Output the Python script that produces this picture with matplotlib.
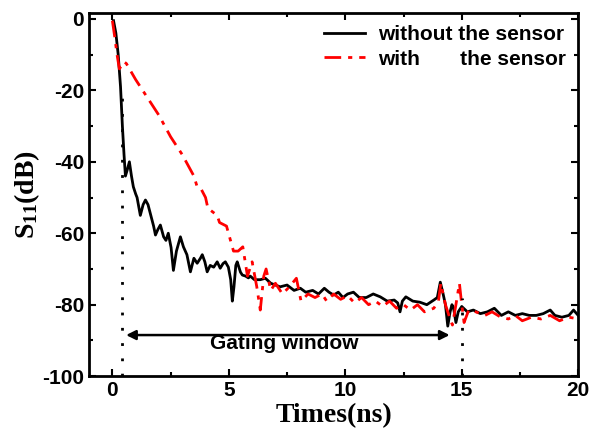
import matplotlib
matplotlib.use("Agg")
import matplotlib.pyplot as plt
from matplotlib.ticker import MultipleLocator

plt.rcParams['mathtext.fontset'] = 'custom'
plt.rcParams['mathtext.rm'] = 'Liberation Serif:bold'
plt.rcParams['mathtext.it'] = 'Liberation Serif:bold'
plt.rcParams['axes.unicode_minus'] = False

# S11 without the sensor (black)
t_without = [0.05, 0.15, 0.25, 0.35, 0.43, 0.5, 0.56, 0.65, 0.73, 0.82, 0.9, 1.0, 1.06, 1.2, 1.32,
             1.42, 1.53, 1.63, 1.77, 1.85, 1.95, 2.06, 2.2, 2.3, 2.4, 2.52, 2.62, 2.75, 2.92, 3.05,
             3.2, 3.35, 3.5, 3.64, 3.78, 3.86, 3.97, 4.07, 4.2, 4.35, 4.5, 4.63, 4.75, 4.85, 4.98,
             5.08, 5.15, 5.22, 5.3, 5.36, 5.5, 5.58, 5.72, 5.84, 5.92, 6.1, 6.35, 6.57, 6.8, 7.0,
             7.2, 7.5, 7.8, 8.07, 8.3, 8.6, 8.85, 9.1, 9.3, 9.5, 9.7, 9.9, 10.1, 10.35, 10.6, 10.9,
             11.2, 11.5, 11.8, 12.1, 12.25, 12.35, 12.45, 12.6, 12.9, 13.2, 13.5, 13.8, 13.95,
             14.08, 14.2, 14.3, 14.4, 14.5, 14.58, 14.65, 14.75, 14.85, 15.0, 15.24, 15.5, 15.8,
             16.1, 16.4, 16.7, 17.0, 17.3, 17.6, 17.9, 18.2, 18.5, 18.8, 19.0, 19.3, 19.6, 19.8, 20.0]
s11_without = [-0.5, -4, -10, -19, -30, -38, -44, -42, -40, -44, -47, -49, -50, -55, -52,
               -50.7, -52, -54.5, -58, -60.5, -59, -57.7, -61, -62, -60, -64, -70.4, -65, -61, -63.8,
               -66, -70.8, -67, -68.4, -67, -66, -68, -70.8, -69, -69.5, -68, -69.8, -68.5, -68, -69.5,
               -73, -79, -75, -69, -68, -70.9, -71.7, -72, -72.5, -72, -73, -73, -72.6, -74, -74.5,
               -75, -74.5, -76, -75.4, -76.5, -76, -77, -75.4, -76.5, -77.3, -76.5, -78, -77, -76.5, -78, -78,
               -77, -77.8, -79, -78.7, -79.5, -82, -79, -77.8, -79, -79.3, -80, -78.7, -78,
               -73.7, -77, -80, -86, -82, -80, -81, -85, -82, -80.5, -82, -81.5, -82.5,
               -82, -81, -83, -82, -83, -82.5, -83, -83, -82.5, -81.5, -83, -83.5, -83, -81.5, -83]

# S11 with the sensor (red)
t_with = [0.0, 0.1, 0.2, 0.3, 0.4, 0.5, 0.6, 1.0, 1.5, 2.0, 2.5, 3.0, 3.5, 3.64, 3.8,
          4.0, 4.1, 4.5, 4.6, 4.9, 5.2, 5.4, 5.6, 5.8, 6.0, 6.2, 6.35, 6.5, 6.6, 6.8,
          7.0, 7.3, 7.6, 7.9, 8.1, 8.4, 8.7, 9.0, 9.2, 9.5, 9.8, 10.1, 10.4, 10.7, 11.0,
          11.3, 11.6, 11.9, 12.2, 12.5, 12.8, 13.1, 13.4, 13.8, 14.0, 14.1, 14.3, 14.5, 14.6,
          14.75, 14.9, 15.0, 15.1, 15.3, 15.6, 16.0, 16.3, 16.65, 17.0, 17.3, 17.6, 18.0, 18.4,
          18.8, 19.2, 19.6, 20.0]
s11_with = [-0.5, -5, -10, -14, -13, -12, -12.5, -17, -22, -27, -33, -38, -44, -47, -47.5,
            -50, -53, -55, -57, -58, -65, -65, -63.8, -72, -68, -75, -81.5, -72, -70, -76,
            -74, -77, -75, -72.6, -79, -77, -78, -77, -79, -77, -78.5, -77.5, -79.5, -78, -80,
            -79, -80.5, -79, -81, -80, -81.5, -80, -82, -81, -79, -74, -80, -84, -85.7,
            -80, -74, -80, -85, -81.5, -82, -83, -82, -83.4, -84, -83, -84.5, -83.5, -84,
            -83, -84.5, -83.5, -84]

gate_start = 0.4
gate_end = 15.0

fig = plt.figure(figsize=(5.9, 4.42), dpi=100)
ax = fig.add_axes([0.151, 0.149, 0.829, 0.822])

ax.plot(t_without, s11_without, color='black', lw=2, label='without the sensor')
ax.plot(t_with, s11_with, color='red', lw=2, linestyle=(0, (6, 2.5, 1.5, 2.5)),
        label='with       the sensor')

ax.plot([gate_start, gate_start], [-100, -20], color='black', lw=2, linestyle=(0, (1, 4.5)))
ax.plot([gate_end, gate_end], [-100, -78], color='black', lw=2, linestyle=(0, (1, 4.5)))
ax.annotate('', xy=(0.47, -88.5), xytext=(14.6, -88.5),
            arrowprops=dict(arrowstyle='<|-|>', color='black', lw=1.8, mutation_scale=14))
ax.text(7.4, -91, 'Gating window', ha='center', va='center', fontsize=15,
        fontweight='bold', family='Liberation Sans')

ax.set_xlim(-1, 20)
ax.set_ylim(-100, 1.7)
ax.xaxis.set_major_locator(MultipleLocator(5))
ax.xaxis.set_minor_locator(MultipleLocator(2.5))
ax.yaxis.set_major_locator(MultipleLocator(20))
ax.yaxis.set_minor_locator(MultipleLocator(10))
ax.tick_params(which='both', direction='in', top=True, right=True, width=1.5)
ax.tick_params(which='major', length=5)
ax.tick_params(which='minor', length=3)
for sp in ax.spines.values():
    sp.set_linewidth(2)
for lbl in ax.get_xticklabels() + ax.get_yticklabels():
    lbl.set_fontfamily('Liberation Sans')
    lbl.set_fontweight('bold')
    lbl.set_fontsize(15)

ax.set_xlabel('Times(ns)', fontsize=20, fontweight='bold', family='Liberation Serif', labelpad=2)
ax.set_ylabel('S$_{11}$(dB)', fontsize=20, fontweight='bold', family='Liberation Serif', labelpad=0)

ax.legend(loc='upper right', frameon=False, handlelength=2.0, borderaxespad=0.2,
          labelspacing=0.25, handletextpad=0.6,
          prop={'family': 'Liberation Sans', 'weight': 'bold', 'size': 15})

fig.savefig('out.png', dpi=100)
